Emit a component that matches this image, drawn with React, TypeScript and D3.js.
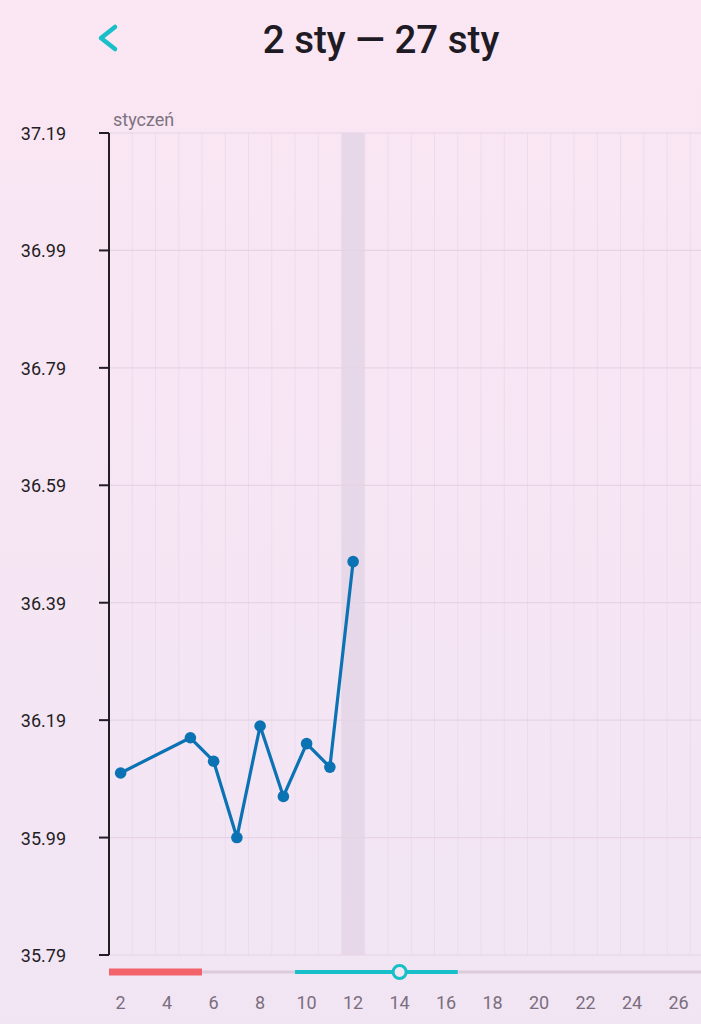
import React from 'react';
import * as d3 from 'd3';

// dni stycznia widoczne na osi
const days = d3.range(2, 28);
const xTickDays = [2, 4, 6, 8, 10, 12, 14, 16, 18, 20, 22, 24, 26];
const yTicks = [35.79, 35.99, 36.19, 36.39, 36.59, 36.79, 36.99, 37.19];

// pomiary temperatury
const measureDays = [2, 5, 6, 7, 8, 9, 10, 11, 12];
const temps = [36.1, 36.16, 36.12, 35.99, 36.18, 36.06, 36.15, 36.11, 36.46];

const periodDays = [2, 3, 4, 5];
const fertileDays = [10, 11, 12, 13, 14, 15, 16];
const ovulationDay = 14;
const todayDay = 12;

const W = 701;
const H = 1024;
const left = 109;
const top = 133;
const bottom = 955;
const bandW = 23.25;

const App = () => {
  const x = d3
    .scaleBand<number>()
    .domain(days)
    .range([left, left + bandW * days.length])
    .padding(0);
  const y = d3.scaleLinear().domain([35.79, 37.19]).range([bottom, top]);
  const cx = (d: number) => (x(d) as number) + x.bandwidth() / 2;

  const line = d3
    .line<number>()
    .x((_, i) => cx(measureDays[i]))
    .y((t) => y(t));

  const trackY = 972;
  const font = 'Roboto, "Noto Sans", sans-serif';

  return (
    <div style={{ position: 'absolute', left: 0, top: 0 }}>
      <svg width={W} height={H} style={{ display: 'block' }}>
        <defs>
          <linearGradient id="bg" x1="0" y1="0" x2="0" y2="1">
            <stop offset="0" stopColor="#fbe6f3" />
            <stop offset="1" stopColor="#f1e5f4" />
          </linearGradient>
        </defs>
        <rect width={W} height={H} fill="url(#bg)" />

        {/* nagłówek */}
        <path d="M115,27 L101,38 L115,49" fill="none" stroke="#17bfc8" strokeWidth={4.5} strokeLinecap="round" strokeLinejoin="round" />
        <text x={381} y={53} textAnchor="middle" fontFamily={font} fontSize={38.5} fontWeight={500} fill="#1f1b24">
          2 sty — 27 sty
        </text>

        {/* dzisiejszy dzień */}
        <rect x={x(todayDay)} y={top} width={x.bandwidth()} height={bottom - top} fill="#e6d8e8" />

        {/* siatka pionowa */}
        {days.map((d) => (
          <line key={d} x1={(x(d) as number) + bandW} x2={(x(d) as number) + bandW} y1={top} y2={bottom} stroke="#eadced" strokeWidth={1} />
        ))}
        {/* siatka pozioma */}
        {yTicks.map((t) => (
          <line key={t} x1={left} x2={W} y1={y(t)} y2={y(t)} stroke="#e6d4e5" strokeWidth={1.2} />
        ))}

        {/* oś Y */}
        <line x1={left} x2={left} y1={top} y2={bottom} stroke="#231d24" strokeWidth={2} />
        {yTicks.map((t) => (
          <g key={t}>
            <line x1={99} x2={left} y1={y(t)} y2={y(t)} stroke="#231d24" strokeWidth={2} />
            <text x={66} y={y(t) + 7} textAnchor="end" fontFamily={font} fontSize={18} fill="#231d24">
              {t.toFixed(2)}
            </text>
          </g>
        ))}
        <text x={113} y={126} fontFamily={font} fontSize={18} fill="#7d7280">
          styczeń
        </text>

        {/* linia temperatury */}
        <path d={line(temps) || ''} fill="none" stroke="#0b72b3" strokeWidth={3.2} strokeLinejoin="round" />
        {temps.map((t, i) => (
          <circle key={i} cx={cx(measureDays[i])} cy={y(t)} r={5.8} fill="#0b72b3" />
        ))}

        {/* pasek cyklu */}
        <line x1={left} x2={W} y1={trackY} y2={trackY} stroke="#dccbdc" strokeWidth={3} />
        <rect
          x={x(periodDays[0])}
          y={trackY - 3.5}
          width={(x(periodDays[periodDays.length - 1]) as number) + bandW - (x(periodDays[0]) as number)}
          height={7}
          fill="#f2646a"
        />
        <line
          x1={x(fertileDays[0])}
          x2={(x(fertileDays[fertileDays.length - 1]) as number) + bandW}
          y1={trackY}
          y2={trackY}
          stroke="#17bfc8"
          strokeWidth={4}
        />
        <circle cx={cx(ovulationDay)} cy={trackY} r={6.5} fill="#f3e6f3" stroke="#17bfc8" strokeWidth={3} />

        {/* oś X */}
        {xTickDays.map((d) => (
          <text key={d} x={cx(d)} y={1009} textAnchor="middle" fontFamily={font} fontSize={18} fill="#7b6e7d">
            {d}
          </text>
        ))}
      </svg>
    </div>
  );
};

export default App;
